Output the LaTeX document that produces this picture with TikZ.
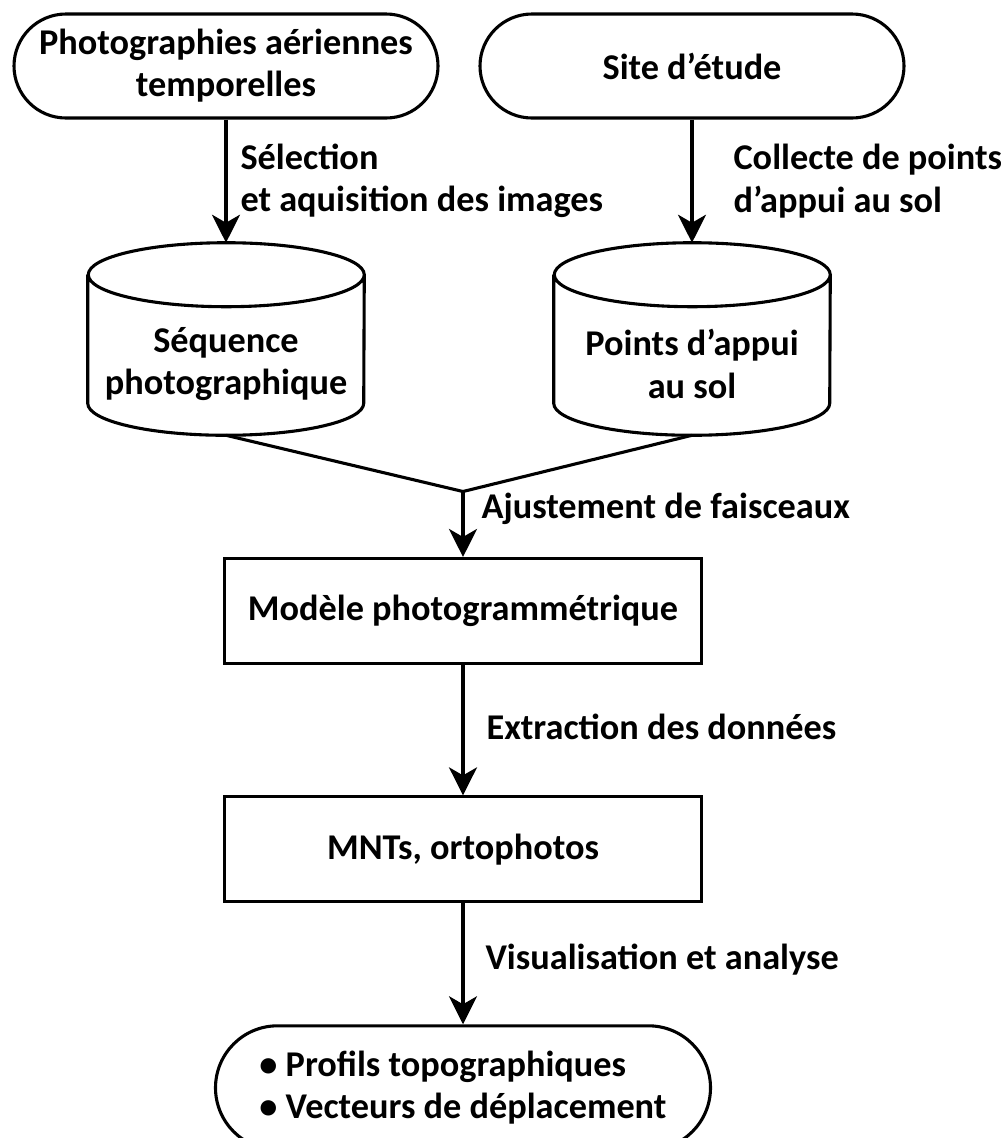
\documentclass[tikz,border=0pt]{standalone}
\usepackage{fontspec}
\setmainfont{Carlito}
\usepackage{tikz}
\usetikzlibrary{shapes.geometric, arrows.meta}

\tikzstyle{startstop} = [rectangle, rounded corners=1.3cm, minimum width=10.6cm, minimum height=2.6cm, text centered, align=flush center, draw=black, line width=2.2pt, font=\bfseries\fontsize{25.8}{30}\selectfont]
\tikzstyle{store} = [rectangle, minimum width=6.9cm, minimum height=4.8cm]
\tikzstyle{storetext} = [align=flush center, yshift=-0.625cm, font=\bfseries\fontsize{25.8}{30}\selectfont]
\tikzstyle{process} = [rectangle, minimum width=11.925cm, minimum height=2.625cm, text centered, draw=black, line width=2.2pt, font=\bfseries\fontsize{25.8}{30}\selectfont]
\tikzstyle{annot} = [anchor=west, align=left, inner sep=0pt, font=\bfseries\fontsize{25.8}{30}\selectfont]
\tikzstyle{arrow} = [line width=2.2pt,-{Stealth[length=0.7cm,width=0.7cm,inset=0.2cm]}]
\tikzstyle{line} = [line width=2.2pt]

\begin{document}
\begin{tikzpicture}[node distance=6.825cm]
        \useasboundingbox (0,0) rectangle (25.025,-28.45);
        \node (photos) [startstop] at (5.65,-1.65) {Photographies aériennes\\temporelles};
        \node (site) [startstop, right of=photos, xshift=4.825cm] {Site d’étude};
        \node (seq) [store, below of=photos, label={[storetext]center:Séquence\\photographique}] {};
        \node (pts) [store, below of=site, label={[storetext]center:Points d’appui\\au sol}] {};
        \node (modele) [process, below of=seq, xshift=5.925cm, yshift=0.025cm] {Modèle photogrammétrique};
        \node (mnt) [process, below of=modele, yshift=0.865cm] {MNTs, ortophotos};
        \node (result) [startstop, below of=mnt, yshift=0.865cm, minimum width=12.375cm, minimum height=3.1cm, rounded corners=1.55cm, align=left] {\textbullet{} Profils topographiques\\\textbullet{} Vecteurs de déplacement};
        \node (merge) [coordinate, above of=modele, yshift=-3.8375cm] {};

        \foreach \db in {seq, pts}
            \draw [line] ([yshift=-0.8cm]\db.north west) -- ([yshift=0.8cm]\db.south west) arc[start angle=180, end angle=360, x radius=3.45cm, y radius=0.8cm] -- ([yshift=-0.8cm]\db.north east) arc[start angle=0, end angle=360, x radius=3.45cm, y radius=0.8cm];

        \draw [arrow] (photos) -- node[annot, xshift=0.325cm] {Sélection\\et aquisition des images} (seq);
        \draw [arrow] (site) -- node[annot, xshift=1cm] {Collecte de points\\d’appui au sol} (pts);
        \draw [line] (seq.south) -- (merge) -- (pts.south);
        \draw [arrow] (merge) -- node[annot, xshift=0.425cm, yshift=0.375cm] {Ajustement de faisceaux} (modele);
        \draw [arrow] (modele) -- node[annot, xshift=0.55cm, yshift=0.09cm] {Extraction des données} (mnt);
        \draw [arrow] (mnt) -- node[annot, xshift=0.525cm, yshift=0.1cm] {Visualisation et analyse} (result);
    \end{tikzpicture}
\end{document}
